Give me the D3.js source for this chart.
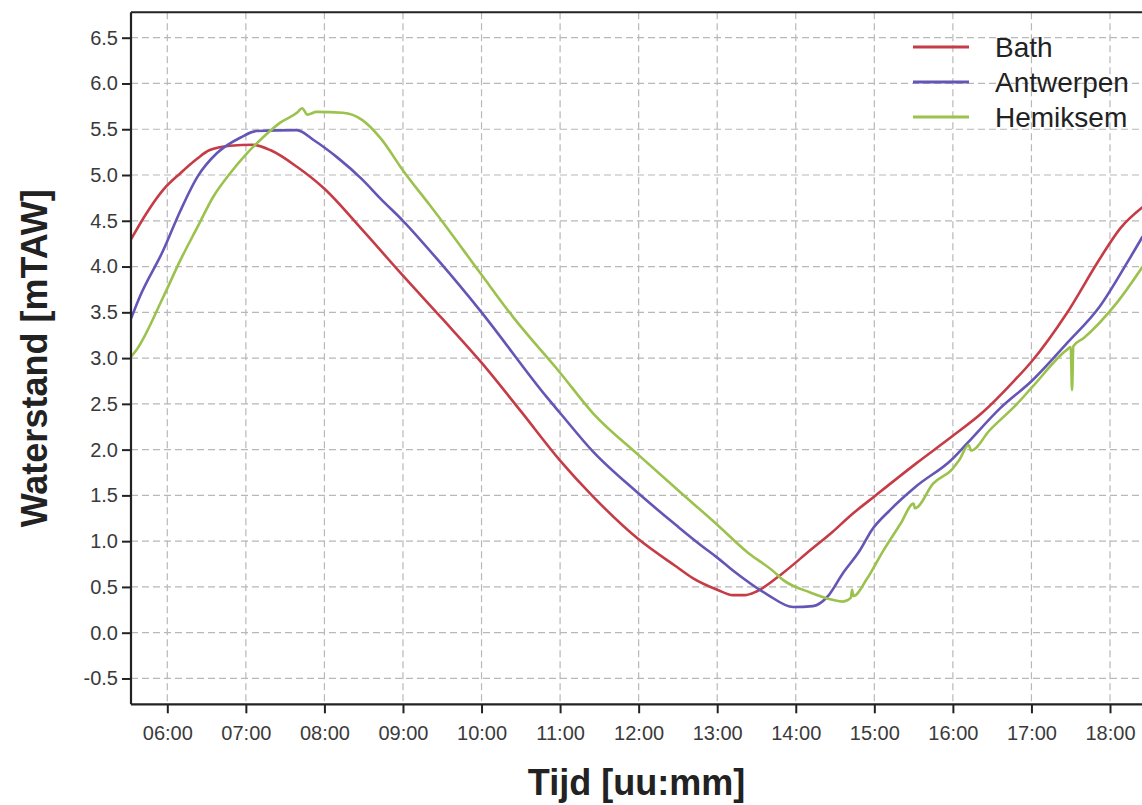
<!DOCTYPE html>
<html>
<head>
<meta charset="utf-8">
<script src="https://cdn.jsdelivr.net/npm/d3@7"></script>
<style>
  html, body { margin: 0; padding: 0; background: #ffffff; }
  svg { display: block; }
</style>
</head>
<body>
<svg id="chart" width="1142" height="805"></svg>
<script>
// ---------------- DATA ----------------
const seriesNames = ["Bath", "Antwerpen", "Hemiksem"];
const xTickLabels = ["06:00","07:00","08:00","09:00","10:00","11:00","12:00","13:00","14:00","15:00","16:00","17:00","18:00"];
const yTickValues = [-0.5, 0.0, 0.5, 1.0, 1.5, 2.0, 2.5, 3.0, 3.5, 4.0, 4.5, 5.0, 5.5, 6.0, 6.5];

const bathTime  = ["05:32","05:44","05:57","06:10","06:23","06:32","06:48","07:05","07:19","07:39","08:00","08:29","09:00","09:30","10:00","10:30","11:00","11:25","12:00","12:29","12:41","13:00","13:12","13:21","13:30","13:50","14:11","14:28","14:41","15:01","15:32","15:59","16:23","16:46","17:00","17:27","17:52","18:08","18:25"];
const bathLevel = [4.29,4.58,4.84,5.02,5.18,5.27,5.32,5.33,5.27,5.09,4.85,4.40,3.90,3.43,2.95,2.42,1.88,1.49,1.02,0.72,0.60,0.47,0.41,0.41,0.45,0.65,0.90,1.10,1.27,1.50,1.85,2.14,2.41,2.74,2.96,3.49,4.08,4.42,4.65];

const antwerpenTime  = ["05:32","05:39","05:57","06:10","06:23","06:38","06:56","07:08","07:39","07:52","08:10","08:29","08:43","09:00","09:28","10:00","10:50","11:00","11:25","12:00","12:29","12:48","13:00","13:12","13:38","13:58","14:13","14:24","14:36","14:49","14:58","15:12","15:32","15:59","16:11","16:36","17:01","17:27","17:52","18:13","18:25"];
const antwerpenLevel = [3.42,3.67,4.18,4.61,4.98,5.24,5.41,5.48,5.49,5.38,5.19,4.95,4.74,4.50,4.05,3.50,2.57,2.40,1.98,1.52,1.17,0.95,0.82,0.68,0.42,0.28,0.29,0.39,0.65,0.90,1.12,1.34,1.60,1.89,2.07,2.45,2.76,3.16,3.56,4.04,4.33];

const hemiksemTime  = ["05:32","05:36","05:57","06:10","06:23","06:35","06:48","07:01","07:13","07:26","07:39","07:43","07:47","07:54","08:14","08:29","08:43","09:00","09:20","09:28","10:00","10:24","11:00","11:25","12:00","12:29","13:00","13:23","13:43","13:50","14:11","14:28","14:36","14:42","14:43","14:44","14:54","15:07","15:20","15:30","15:31","15:45","15:59","16:05","16:12","16:14","16:28","16:49","17:01","17:27","17:30","17:31","17:32","17:40","18:05","18:25"];
const hemiksemLevel = [3.01,3.08,3.67,4.07,4.43,4.76,5.02,5.24,5.41,5.57,5.68,5.73,5.66,5.69,5.68,5.60,5.40,5.05,4.68,4.53,3.91,3.45,2.84,2.40,1.94,1.57,1.18,0.88,0.67,0.58,0.44,0.36,0.34,0.38,0.47,0.40,0.58,0.90,1.19,1.41,1.36,1.63,1.78,1.89,2.05,1.99,2.21,2.50,2.69,3.09,3.12,2.65,3.13,3.22,3.60,4.00];

const seriesColors = ["#c63c46", "#6356b6", "#9cc24e"];

// ---------------- LAYOUT ----------------
const svg = d3.select("#chart");
const frame = { left: 131, right: 1142, top: 12.3, bottom: 704.3 };
const fontFamily = "Arial, 'Liberation Sans', sans-serif";
const locale = d3.formatLocale({ decimal: ".", thousands: ",", grouping: [3], currency: ["", ""], minus: "-" });

const toHours = s => { const [h, m] = s.split(":").map(Number); return h + m / 60; };

const x = d3.scaleLinear().domain([6, 18]).range([167.3, 1110]);
const y = d3.scaleLinear().domain([0, 6.5]).range([632.7, 37.7]);

const series = [
  { name: seriesNames[0], color: seriesColors[0], pts: bathTime.map((t, i) => [toHours(t), bathLevel[i]]) },
  { name: seriesNames[1], color: seriesColors[1], pts: antwerpenTime.map((t, i) => [toHours(t), antwerpenLevel[i]]) },
  { name: seriesNames[2], color: seriesColors[2], pts: hemiksemTime.map((t, i) => [toHours(t), hemiksemLevel[i]]) }
];

const xTickValues = xTickLabels.map(toHours);

// clip
svg.append("defs").append("clipPath").attr("id", "plotclip")
  .append("rect")
  .attr("x", frame.left).attr("y", frame.top)
  .attr("width", frame.right - frame.left).attr("height", frame.bottom - frame.top);

// grid
const grid = svg.append("g").attr("stroke", "#b8b8b8").attr("stroke-width", 1.2).attr("stroke-dasharray", "7,4");
grid.selectAll("line.h").data(yTickValues).enter().append("line")
  .attr("x1", frame.left).attr("x2", frame.right)
  .attr("y1", d => y(d)).attr("y2", d => y(d));
grid.selectAll("line.v").data(xTickValues).enter().append("line")
  .attr("x1", d => x(d)).attr("x2", d => x(d))
  .attr("y1", frame.top).attr("y2", frame.bottom);

// lines
const line = d3.line().x(d => x(d[0])).y(d => y(d[1])).curve(d3.curveMonotoneX);
const lines = svg.append("g").attr("clip-path", "url(#plotclip)");
series.forEach(s => {
  lines.append("path").datum(s.pts)
    .attr("fill", "none").attr("stroke", s.color)
    .attr("stroke-width", 2.6).attr("stroke-linejoin", "round")
    .attr("d", line);
});

// frame (top border)
svg.append("line").attr("x1", frame.left).attr("x2", frame.right)
  .attr("y1", frame.top).attr("y2", frame.top)
  .attr("stroke", "#222").attr("stroke-width", 2);

// axes
const yAxis = svg.append("g").attr("transform", `translate(${frame.left},0)`)
  .call(d3.axisLeft(y).tickValues(yTickValues).tickFormat(locale.format(".1f")).tickSize(9).tickPadding(4));
yAxis.select(".domain").attr("d", `M0,${frame.top}V${frame.bottom}`);

const xAxis = svg.append("g").attr("transform", `translate(0,${frame.bottom})`)
  .call(d3.axisBottom(x).tickValues(xTickValues).tickFormat((d, i) => xTickLabels[i]).tickSize(9).tickPadding(13));
xAxis.select(".domain").attr("d", `M${frame.left},0H${frame.right}`);

[yAxis, xAxis].forEach(a => {
  a.select(".domain").attr("stroke", "#222").attr("stroke-width", 2.2);
  a.selectAll(".tick line").attr("stroke", "#222").attr("stroke-width", 2);
  a.selectAll(".tick text").attr("fill", "#3a3a3a")
    .style("font-family", fontFamily).style("font-size", "20px");
});

// axis titles
svg.append("text")
  .attr("transform", `translate(47,${(frame.top + frame.bottom) / 2}) rotate(-90)`)
  .attr("text-anchor", "middle")
  .style("font-family", fontFamily)
  .style("font-weight", "bold").style("font-size", "36px").attr("fill", "#222")
  .text("Waterstand [mTAW]");

svg.append("text")
  .attr("x", (frame.left + frame.right) / 2).attr("y", 795)
  .attr("text-anchor", "middle")
  .style("font-family", fontFamily)
  .style("font-weight", "bold").style("font-size", "36px").attr("fill", "#222")
  .text("Tijd [uu:mm]");

// legend
const legend = svg.append("g").attr("transform", "translate(913,47)");
series.forEach((s, i) => {
  const g = legend.append("g").attr("transform", `translate(0,${i * 35})`);
  g.append("line").attr("x1", 0).attr("x2", 56).attr("y1", 0).attr("y2", 0)
    .attr("stroke", s.color).attr("stroke-width", 3);
  g.append("text").attr("x", 82).attr("y", 0).attr("dy", "0.36em")
    .style("font-family", fontFamily).style("font-size", "28px")
    .attr("fill", "#222").text(s.name);
});
</script>
</body>
</html>
